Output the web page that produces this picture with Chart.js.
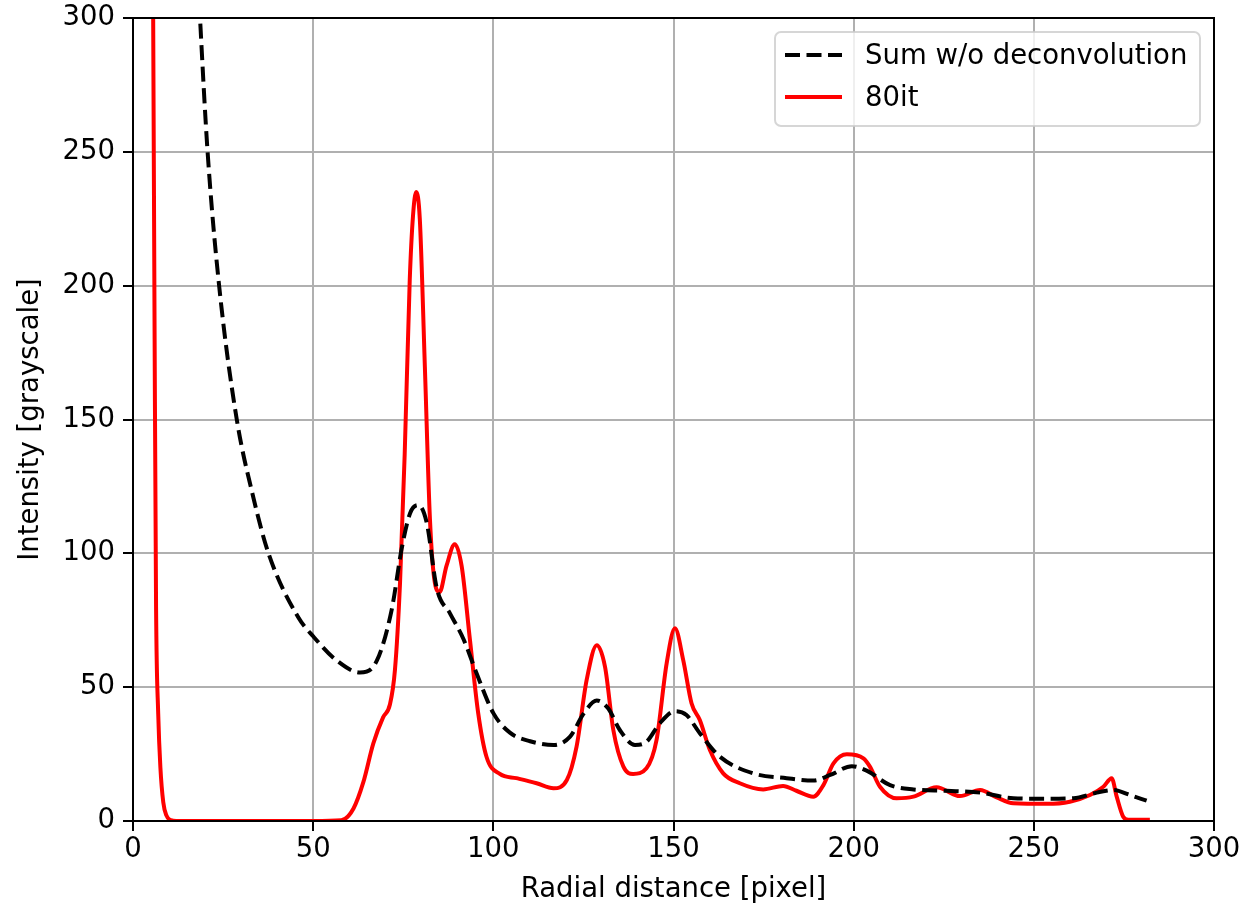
<!DOCTYPE html>
<html lang="en">
<head>
  <meta charset="UTF-8">
  <title>Radial profile</title>
  <script src="https://cdn.jsdelivr.net/npm/chart.js"></script>
</head>
<style>
  html, body { margin: 0; padding: 0; background: #fff; }
  #grafico { width: 1247px !important; height: 912px !important; display: block; }
</style>
<body>
  <canvas id="grafico" width="1247" height="912"></canvas>
</body>
<script>
  // Sum w/o deconvolution (dashed black)
  const sumX = [17.5, 18.6, 20.7, 23.9, 28.8, 33.2, 37.6, 45.9, 50.0, 56.5, 63.0, 67.6, 71.8, 74.6, 76.9, 79.2,
    81.5, 84.3, 88.0, 91.7, 95.4, 100.0, 104.6, 110.2, 116.7, 121.3, 125.0, 128.7, 131.9, 135.1, 139.3, 142.5,
    146.2, 150.4, 153.6, 157.3, 162.9, 172.1, 181.4, 188.8, 193.5, 199.5, 203.6, 210.1, 216.6, 225.8, 235.1,
    244.3, 253.6, 261.0, 267.5, 272.1, 276.7, 281.3]
  const sumY = [330, 300, 250, 200, 150, 122, 100, 76, 69, 60, 55.5, 59.7, 79, 102, 115, 118,
    111.5, 87, 77.5, 68, 55, 40.3, 33, 29.8, 28.4, 31.5, 40, 45, 42, 34, 28.4, 29.6,
    36.5, 41, 39.6, 32.8, 24, 17.8, 16, 15.1, 17.2, 20.5, 18.8, 13.4, 11.8, 11.3, 10.6,
    8.5, 8.3, 8.5, 10.6, 11.6, 9.7, 7.6]

  // 80 iterations (red)
  const itX = [5.3, 5.6, 6.0, 6.4, 7.0, 7.6, 8.4, 9.3, 10.5, 12, 30, 50, 57.8, 61.2, 63.9, 66.7, 69.4, 71.3, 72.7,
    74.1, 75.4, 76.8, 77.7, 78.6, 79.6, 81.0, 82.4, 83.8, 85.1, 87.0, 89.3, 91.2, 93.5, 95.8, 98.1, 101.8,
    106.4, 112.0, 116.7, 120.4, 123.1, 125.9, 128.7, 131.0, 133.3, 136.1, 138.8, 142.5, 145.3, 148.1, 150.4,
    152.7, 155.0, 157.3, 160.1, 163.8, 168.4, 174.9, 180.4, 184.1, 188.8, 191.6, 194.4, 198.1, 202.7, 204.5,
    207.3, 211.9, 216.6, 223.0, 229.5, 235.1, 239.7, 244.3, 253.6, 260.0, 265.6, 269.3, 271.6, 273.0, 274.8,
    276.2, 282.2]
  const itY = [420, 300, 180, 80, 40, 20, 7, 2, 0.3, 0, 0, 0, 0.3, 4.7, 14.4, 29, 38.7, 43.5, 56.5,
    88.8, 137, 202, 226, 235, 224.8, 169.7, 113, 88.8, 85.6, 95.3, 103.4, 95.3, 67.8, 40.3, 24, 17.6,
    16, 14.1, 12.2, 15.3, 27.8, 52.7, 65.7, 57.6, 34, 20.3, 17.6, 19.7, 30.3, 58.9, 72,
    60.1, 44, 37.7, 26.5, 17.8, 14.1, 11.8, 13.1, 11.3, 9.1, 13.4, 21.5, 24.9, 23.4, 20.3,
    12.8, 8.5, 9.1, 12.6, 9.3, 11.6, 8.8, 6.6, 6.4, 7.2, 9.7, 12.8, 16, 9.1, 1.6,
    0.5, 0.5]

  const legendLabels = ['Sum w/o deconvolution', '80it']

  const FONT = 'DejaVu Sans'
  const FS = 27.5
  const toPts = (xs, ys) => xs.map((x, i) => ({ x: x, y: ys[i] }))

  // marco superior y derecho + leyenda estilo matplotlib
  const marco = {
    id: 'marco',
    afterDatasetsDraw(chart) {
      const { ctx, chartArea: a } = chart
      ctx.save()
      ctx.strokeStyle = '#000'
      ctx.lineWidth = 2
      ctx.strokeRect(a.left, a.top, a.right - a.left, a.bottom - a.top)
      ctx.restore()
    },
    afterDraw(chart) {
      const ctx = chart.ctx
      ctx.save()
      const x0 = 775, y0 = 32, w = 425, h = 94, r = 6
      ctx.beginPath()
      ctx.roundRect(x0, y0, w, h, r)
      ctx.fillStyle = 'rgba(255,255,255,0.8)'
      ctx.fill()
      ctx.strokeStyle = 'rgba(204,204,204,0.8)'
      ctx.lineWidth = 2
      ctx.stroke()

      ctx.lineWidth = 4
      ctx.beginPath()
      ctx.setLineDash([15, 6.5])
      ctx.strokeStyle = '#000'
      ctx.moveTo(785, 55); ctx.lineTo(842, 55)
      ctx.stroke()
      ctx.beginPath()
      ctx.setLineDash([])
      ctx.strokeStyle = '#ff0000'
      ctx.moveTo(785, 97); ctx.lineTo(842, 97)
      ctx.stroke()

      ctx.fillStyle = '#000'
      ctx.font = FS + 'px "' + FONT + '"'
      ctx.textBaseline = 'middle'
      ctx.fillText(legendLabels[0], 865, 57)
      ctx.fillText(legendLabels[1], 865, 99)
      ctx.restore()
    }
  }

  const ctx = document.getElementById('grafico').getContext('2d')
  const chart = new Chart(ctx, {
    type: 'line',
    data: {
      datasets: [{
        label: legendLabels[0],
        data: toPts(sumX, sumY),
        borderColor: '#000',
        borderWidth: 4,
        borderDash: [15, 6.5],
        pointRadius: 0,
        cubicInterpolationMode: 'monotone',
        clip: 0
      }, {
        label: legendLabels[1],
        data: toPts(itX, itY),
        borderColor: '#ff0000',
        borderWidth: 4,
        pointRadius: 0,
        cubicInterpolationMode: 'monotone',
        clip: 0
      }]
    },
    plugins: [marco],
    options: {
      responsive: false,
      animation: false,
      layout: { padding: { left: 0, top: 18, right: 33, bottom: 0 } },
      plugins: { legend: { display: false }, tooltip: { enabled: false } },
      scales: {
        x: {
          type: 'linear', min: 0, max: 300,
          ticks: { stepSize: 50, color: '#000', font: { family: FONT, size: FS }, padding: 2, maxRotation: 0 },
          grid: { color: '#b0b0b0', lineWidth: 2, tickColor: '#000', tickLength: 10 },
          border: { color: '#000', width: 2 },
          title: { display: true, text: 'Radial distance [pixel]', color: '#000', font: { family: FONT, size: FS }, padding: { top: 4, bottom: 6 } },
          afterFit(s) { s.height = 91; s.paddingLeft = 0; s.paddingRight = 0 }
        },
        y: {
          min: 0, max: 300,
          ticks: { stepSize: 50, color: '#000', font: { family: FONT, size: FS }, padding: 8 },
          grid: { color: '#b0b0b0', lineWidth: 2, tickColor: '#000', tickLength: 10 },
          border: { color: '#000', width: 2 },
          title: { display: true, text: 'Intensity [grayscale]', color: '#000', font: { family: FONT, size: FS }, padding: { top: 14, bottom: 4 } },
          afterFit(s) { s.width = 133; s.paddingTop = 0; s.paddingBottom = 0 }
        }
      }
    }
  })
</script>
</html>
